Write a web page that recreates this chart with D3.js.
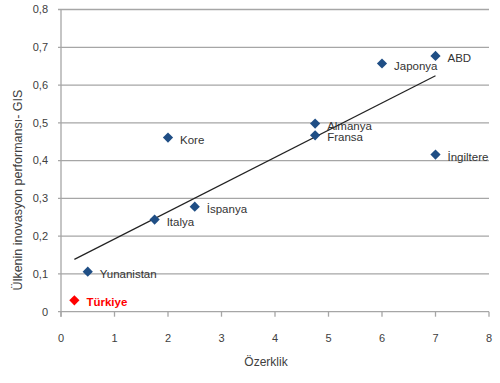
<!DOCTYPE html>
<html><head><meta charset="utf-8">
<script src="https://cdn.jsdelivr.net/npm/d3@7"></script>
<style>body{margin:0;background:#fff}svg{display:block}text{font-family:"Liberation Sans",Arial,sans-serif}</style>
</head><body><svg id="c" width="500" height="383"></svg>
<script>
const countries = ["Türkiye","Yunanistan","Italya","İspanya","Kore","Almanya","Fransa","Japonya","ABD","İngiltere"];
const ozerklik = [0.25,0.5,1.75,2.5,2,4.75,4.75,6,7,7];
const gis = [0.03,0.106,0.244,0.278,0.461,0.498,0.467,0.657,0.677,0.416];
const highlight = ["Türkiye"];
const xTicks = [0,1,2,3,4,5,6,7,8];
const yTicks = [0,0.1,0.2,0.3,0.4,0.5,0.6,0.7,0.8];

const svg = d3.select("#c");
const x = d3.scaleLinear().domain([0,8]).range([61,489]);
const y = d3.scaleLinear().domain([0,0.8]).range([311.7,9.5]);
const yfmt = d => d===0 ? "0" : d3.format(".1f")(d).replace(".",",");

// gridlines
svg.append("g").selectAll("line").data(yTicks).join("line")
  .attr("x1",58).attr("x2",489).attr("y1",d=>y(d)).attr("y2",d=>y(d))
  .attr("stroke","#a6a6a6").attr("stroke-width",1.3);
// y axis line
svg.append("line").attr("x1",x(0)).attr("x2",x(0)).attr("y1",y(0.8)).attr("y2",y(0)+5)
  .attr("stroke","#a6a6a6").attr("stroke-width",1.3);
// x ticks
svg.append("g").selectAll("line").data(xTicks).join("line")
  .attr("x1",d=>x(d)).attr("x2",d=>x(d)).attr("y1",y(0)).attr("y2",y(0)+5)
  .attr("stroke","#a6a6a6").attr("stroke-width",1.3);
// tick labels
svg.append("g").selectAll("text").data(yTicks).join("text")
  .attr("x",48).attr("y",d=>y(d)).attr("dy","0.35em").attr("text-anchor","end")
  .attr("font-size",11).attr("fill","#404040").text(yfmt);
svg.append("g").selectAll("text").data(xTicks).join("text")
  .attr("x",d=>x(d)).attr("y",338).attr("dy","0.35em").attr("text-anchor","middle")
  .attr("font-size",11).attr("fill","#404040").text(d=>d);

// axis titles
svg.append("text").attr("x",266).attr("y",362).attr("dy","0.35em").attr("text-anchor","middle")
  .attr("font-size",12).attr("fill","#404040").text("Özerklik");
svg.append("text").attr("transform","translate(18,190) rotate(-90)").attr("dy","0.35em")
  .attr("text-anchor","middle").attr("font-size",12.5).attr("fill","#404040")
  .text("Ülkenin inovasyon performansı- GIS");

// trendline (linear regression)
const n = ozerklik.length;
const mx = d3.mean(ozerklik), my = d3.mean(gis);
let sxy=0,sxx=0;
for(let i=0;i<n;i++){sxy+=(ozerklik[i]-mx)*(gis[i]-my);sxx+=(ozerklik[i]-mx)**2;}
const b = sxy/sxx, a = my-b*mx;
const [x0,x1] = d3.extent(ozerklik);
svg.append("line").attr("x1",x(x0)).attr("y1",y(a+b*x0)).attr("x2",x(x1)).attr("y2",y(a+b*x1))
  .attr("stroke","#222").attr("stroke-width",1.2);

// points
const data = countries.map((c,i)=>({c,x:ozerklik[i],y:gis[i]}));
const sym = d3.symbol().type(d3.symbolSquare).size(52);
svg.append("g").selectAll("path").data(data).join("path")
  .attr("d",sym).attr("transform",d=>`translate(${x(d.x)},${y(d.y)}) rotate(45)`)
  .attr("fill",d=>highlight.includes(d.c)?"#ff0000":"#1f4e85");
svg.append("g").selectAll("text").data(data).join("text")
  .attr("x",d=>x(d.x)+12).attr("y",d=>y(d.y)+2).attr("dy","0.35em")
  .attr("font-size",11.5)
  .attr("fill",d=>highlight.includes(d.c)?"#ff0000":"#333")
  .attr("font-weight",d=>highlight.includes(d.c)?"bold":"normal")
  .text(d=>d.c);
</script></body></html>
